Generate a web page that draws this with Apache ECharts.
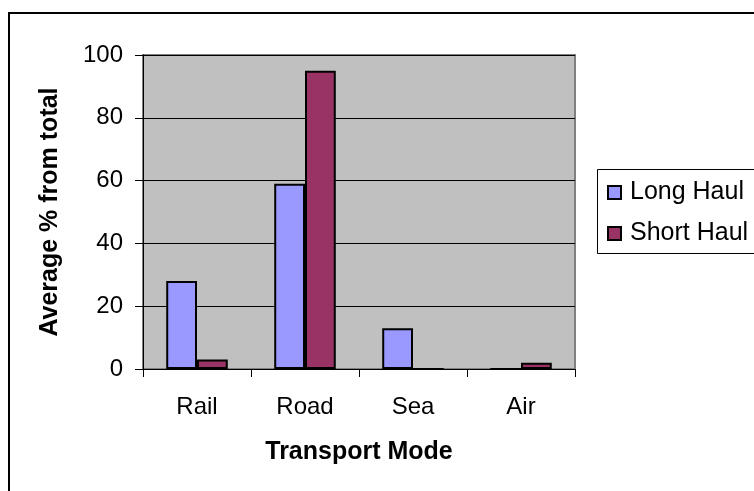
<!DOCTYPE html>
<html>
<head>
<meta charset="utf-8">
<script src="https://cdn.jsdelivr.net/npm/echarts@6/dist/echarts.min.js"></script>
<style>
  html, body { margin: 0; padding: 0; background: #fff; }
  #chart { width: 754px; height: 491px; }
</style>
</head>
<body>
<div id="chart"></div>
<script>
(function () {

  var modes = ['Rail', 'Road', 'Sea', 'Air'];
  var longHaul = [28, 59, 13, 0];
  var shortHaul = [3, 95, 0, 2];
  var yTicks = { min: 0, max: 100, interval: 20 };

  var font = '"Liberation Sans", Arial, sans-serif';

  var myChart = echarts.init(document.getElementById('chart'));
  var option = {
    animation: false,
    backgroundColor: '#fff',
    textStyle: { fontFamily: font },
    graphic: [{
      // outer chart frame, runs off the right and bottom edges
      type: 'rect',
      shape: { x: 9, y: 13, width: 800, height: 600 },
      style: { fill: 'none', stroke: '#000', lineWidth: 2 },
      silent: true
    }, {
      // legend frame, also cut off at the right
      type: 'rect',
      shape: { x: 597.5, y: 169.5, width: 200, height: 84 },
      style: { fill: 'none', stroke: '#000', lineWidth: 1 },
      silent: true
    }],
    grid: {
      left: 143,
      right: 179,
      top: 55,
      bottom: 122,
      show: true,
      backgroundColor: '#c0c0c0',
      borderColor: '#808080',
      borderWidth: 2
    },
    legend: {
      orient: 'vertical',
      left: 597,
      top: 169,
      padding: [11, 10, 9, 10],
      itemGap: 16,
      itemWidth: 13,
      itemHeight: 13,
      icon: 'rect',
      textStyle: { fontSize: 25, color: '#000', fontFamily: font, padding: [0, 0, 0, 4] },
      data: ['Long Haul', 'Short Haul']
    },
    xAxis: {
      type: 'category',
      data: modes,
      name: 'Transport Mode',
      nameLocation: 'middle',
      nameGap: 71,
      nameTextStyle: { fontSize: 25, fontWeight: 'bold', color: '#000', fontFamily: font },
      axisLine: { lineStyle: { color: '#000', width: 1 } },
      axisTick: { show: true, length: 8, lineStyle: { color: '#000' } },
      axisLabel: { fontSize: 24, color: '#000', margin: 26, fontFamily: font },
      splitLine: { show: false }
    },
    yAxis: {
      type: 'value',
      min: yTicks.min,
      max: yTicks.max,
      interval: yTicks.interval,
      name: 'Average % from total',
      nameLocation: 'middle',
      nameGap: 80,
      nameTextStyle: { fontSize: 25, fontWeight: 'bold', color: '#000', fontFamily: font },
      axisLine: { show: true, lineStyle: { color: '#000', width: 1 } },
      axisTick: { show: true, length: 8, lineStyle: { color: '#000' } },
      axisLabel: { fontSize: 24, color: '#000', margin: 20, fontFamily: font },
      splitLine: { show: true, lineStyle: { color: '#000', width: 1 } }
    },
    series: [{
      name: 'Long Haul',
      type: 'bar',
      data: longHaul,
      barGap: '0%',
      barCategoryGap: '43%',
      itemStyle: { color: '#9999ff', borderColor: '#000', borderWidth: 2 }
    }, {
      name: 'Short Haul',
      type: 'bar',
      data: shortHaul,
      itemStyle: { color: '#993366', borderColor: '#000', borderWidth: 2 }
    }]
  };

  myChart.setOption(option);
})();
</script>
</body>
</html>
